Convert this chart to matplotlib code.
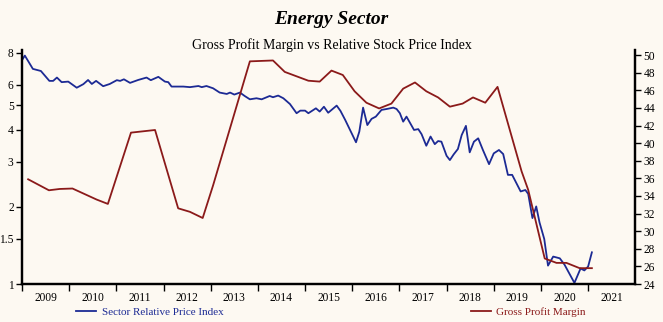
import matplotlib.pyplot as plt
from matplotlib.lines import Line2D
from matplotlib.ticker import FixedLocator, NullFormatter, FixedFormatter, NullLocator

# Sector relative price index (left, log scale)
price_dates = [2009.0, 2009.06, 2009.23, 2009.40, 2009.58, 2009.66, 2009.74, 2009.84, 2009.98,
               2010.16, 2010.30, 2010.40, 2010.48, 2010.57, 2010.72, 2010.86, 2011.01, 2011.08,
               2011.16, 2011.29, 2011.46, 2011.64, 2011.73, 2011.89, 2012.03, 2012.10, 2012.17,
               2012.42, 2012.56, 2012.74, 2012.81, 2012.91, 2013.05, 2013.19, 2013.34, 2013.41,
               2013.50, 2013.62, 2013.72, 2013.83, 2013.97, 2014.08, 2014.25, 2014.32, 2014.43,
               2014.54, 2014.68, 2014.82, 2014.90, 2015.00, 2015.07, 2015.23, 2015.31, 2015.40,
               2015.49, 2015.67, 2015.75, 2015.85, 2016.08, 2016.15, 2016.23, 2016.32, 2016.41,
               2016.50, 2016.62, 2016.73, 2016.87, 2016.94, 2017.01, 2017.08, 2017.15, 2017.31,
               2017.40, 2017.47, 2017.57, 2017.66, 2017.75, 2017.82, 2017.89, 2018.00, 2018.07,
               2018.15, 2018.24, 2018.32, 2018.41, 2018.49, 2018.58, 2018.67, 2018.77, 2018.90,
               2019.00, 2019.11, 2019.20, 2019.30, 2019.39, 2019.57, 2019.67, 2019.73, 2019.82,
               2019.90, 2019.97, 2020.07, 2020.15, 2020.26, 2020.40, 2020.50, 2020.71, 2020.84,
               2020.92, 2021.00, 2021.08]
price_index = [7.50, 7.81, 6.93, 6.80, 6.22, 6.22, 6.41, 6.15, 6.18,
               5.85, 6.04, 6.27, 6.05, 6.22, 5.93, 6.05, 6.26, 6.22,
               6.31, 6.11, 6.27, 6.41, 6.26, 6.45, 6.18, 6.15, 5.91,
               5.91, 5.88, 5.94, 5.88, 5.94, 5.82, 5.60, 5.53, 5.60,
               5.50, 5.60, 5.43, 5.27, 5.32, 5.27, 5.43, 5.37, 5.45,
               5.32, 5.05, 4.65, 4.76, 4.76, 4.65, 4.86, 4.72, 4.93,
               4.67, 4.98, 4.75, 4.38, 3.58, 3.94, 4.89, 4.18, 4.42,
               4.51, 4.79, 4.83, 4.89, 4.83, 4.65, 4.31, 4.51, 4.00,
               4.03, 3.85, 3.47, 3.77, 3.52, 3.62, 3.60, 3.17, 3.05,
               3.21, 3.37, 3.82, 4.15, 3.27, 3.60, 3.71, 3.34, 2.94,
               3.24, 3.34, 3.22, 2.67, 2.67, 2.30, 2.33, 2.25, 1.81,
               2.01, 1.74, 1.50, 1.18, 1.28, 1.26, 1.19, 1.01, 1.15,
               1.13, 1.17, 1.33]

# Gross profit margin (right axis, %)
margin_dates = [2009.13, 2009.57, 2009.80, 2010.07, 2010.58, 2010.82, 2011.31, 2011.82,
                2012.31, 2012.56, 2012.83, 2013.05, 2013.83, 2014.32, 2014.57, 2015.07,
                2015.31, 2015.56, 2015.80, 2016.05, 2016.30, 2016.57, 2016.83, 2017.08,
                2017.33, 2017.57, 2017.82, 2018.07, 2018.34, 2018.56, 2018.82, 2019.08,
                2019.59, 2019.73, 2020.08, 2020.33, 2020.54, 2020.82, 2021.08]
gross_margin = [35.9, 34.65, 34.8, 34.85, 33.6, 33.1, 41.2, 41.5,
                32.6, 32.2, 31.5, 35.2, 49.3, 49.4, 48.1, 47.1,
                47.0, 48.25, 47.75, 45.9, 44.6, 43.95, 44.5, 46.2,
                46.9, 45.9, 45.2, 44.15, 44.5, 45.2, 44.6, 46.4,
                36.8, 34.7, 26.9, 26.4, 26.4, 25.8, 25.8]

years = list(range(2009, 2022))
left_ticks = [1, 1.5, 2, 3, 4, 5, 6, 8]
right_ticks = list(range(24, 51, 2))

bg = "#fdf9f2"
blue = "#1c2a94"
red = "#8b1a1a"
plt.rcParams["font.family"] = ["Liberation Serif", "DejaVu Serif"]

fig = plt.figure(figsize=(6.63, 3.22), dpi=100, facecolor=bg)
ax = fig.add_axes([0.0332, 0.118, 0.925, 0.727], facecolor=bg)
ax2 = ax.twinx()

ax.plot(price_dates, price_index, color=blue, lw=1.3)
ax2.plot(margin_dates, gross_margin, color=red, lw=1.3)

ax.set_yscale("log")
ax.set_ylim(1, 8.22)
ax2.set_ylim(24, 50.6)
ax.set_xlim(2009, 2022)

ax.yaxis.set_major_locator(FixedLocator(left_ticks))
ax.yaxis.set_major_formatter(FixedFormatter([str(t) for t in left_ticks]))
ax.yaxis.set_minor_locator(NullLocator())
ax.yaxis.set_minor_formatter(NullFormatter())
ax2.yaxis.set_major_locator(FixedLocator(right_ticks))

ax.xaxis.set_major_locator(FixedLocator(years))
ax.xaxis.set_major_formatter(NullFormatter())
ax.xaxis.set_minor_locator(FixedLocator([y + 0.5 for y in years]))
ax.xaxis.set_minor_formatter(FixedFormatter([str(y) for y in years]))
ax.tick_params(axis="x", which="major", length=5, width=1, direction="out")
ax.tick_params(axis="x", which="minor", length=0, labelsize=8.3, pad=6)
ax.tick_params(axis="y", length=4, width=1, labelsize=8.3, pad=2)
ax2.tick_params(axis="y", length=4, width=1, labelsize=8.3, pad=2)

for a in (ax, ax2):
    a.spines["top"].set_visible(False)
    for s in ("left", "right", "bottom"):
        a.spines[s].set_linewidth(1.6)

fig.text(0.5, 0.94, "Energy Sector", ha="center", va="center",
         fontsize=14, fontweight="bold", fontstyle="italic")
fig.text(0.5, 0.86, "Gross Profit Margin vs Relative Stock Price Index",
         ha="center", va="center", fontsize=10)

h1 = Line2D([], [], color=blue, lw=1.3)
h2 = Line2D([], [], color=red, lw=1.3)
leg1 = fig.legend([h1], ["Sector Relative Price Index"], loc="center left",
                  bbox_to_anchor=(0.1, 0.03), frameon=False, fontsize=8,
                  handlelength=1.8, handletextpad=0.5, labelcolor=blue)
leg2 = fig.legend([h2], ["Gross Profit Margin"], loc="center left",
                  bbox_to_anchor=(0.695, 0.03), frameon=False, fontsize=8,
                  handlelength=1.8, handletextpad=0.5, labelcolor=red)

fig.savefig("out.png", dpi=100, facecolor=bg)
